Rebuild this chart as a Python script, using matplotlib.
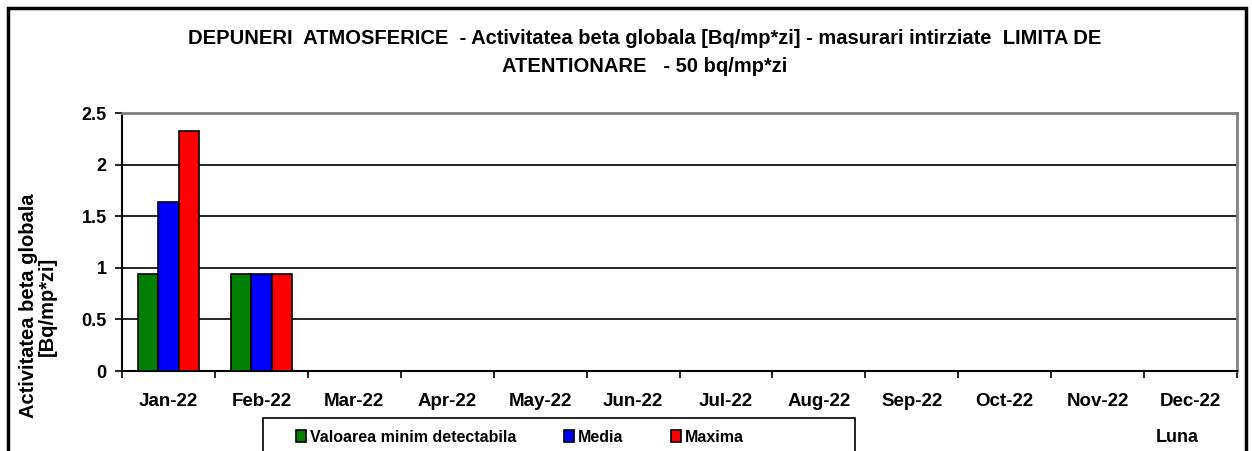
import numpy as np
import matplotlib.pyplot as plt
from matplotlib.patches import Rectangle

plt.rcParams['font.family'] = ['Liberation Sans', 'DejaVu Sans']
plt.rcParams['font.weight'] = 'bold'

# Date
luni = ['Jan-22', 'Feb-22', 'Mar-22', 'Apr-22', 'May-22', 'Jun-22',
        'Jul-22', 'Aug-22', 'Sep-22', 'Oct-22', 'Nov-22', 'Dec-22']
minim_detectabil = [0.94, 0.94]
media = [1.64, 0.94]
maxima = [2.33, 0.94]
serii = ['Valoarea minim detectabila', 'Media', 'Maxima']
culori = ['#008000', '#0000ff', '#ff0000']

fig = plt.figure(figsize=(12.52, 4.51), dpi=100)
ax = fig.add_axes([122 / 1252, 1 - 371 / 451, (1237 - 122) / 1252, (371 - 113) / 451])

x = np.arange(len(luni))
w = 0.22
for i, (vals, nume, c) in enumerate(zip([minim_detectabil, media, maxima], serii, culori)):
    xs = x[:len(vals)] + (i - 1) * w
    ax.bar(xs, vals, width=w, color=c, edgecolor='black', linewidth=1.2, label=nume, zorder=3)

ax.set_xlim(-0.5, len(luni) - 0.5)
ax.set_ylim(0, 2.5)
ax.set_yticks([0, 0.5, 1, 1.5, 2, 2.5])
ax.set_yticklabels(['0', '0.5', '1', '1.5', '2', '2.5'], fontsize=13, fontweight='bold')
ax.set_xticks(x)
ax.set_xticklabels(luni, fontsize=13.5, fontweight='bold')
ax.set_xticks(np.arange(-0.5, len(luni)), minor=True)
ax.tick_params(axis='x', which='major', length=0, pad=16)
ax.tick_params(axis='x', which='minor', length=5, width=1.2, direction='out')
ax.tick_params(axis='y', length=5, width=1.2, direction='out', pad=6)

for yv in [0.5, 1, 1.5, 2]:
    ax.axhline(yv, color='black', linewidth=1.2, zorder=1)

ax.spines['left'].set_linewidth(1.5)
ax.spines['bottom'].set_linewidth(1.5)
ax.spines['top'].set_color('#808080')
ax.spines['right'].set_color('#808080')
ax.spines['top'].set_linewidth(2)
ax.spines['right'].set_linewidth(2)

fig.text(645 / 1252, 1 - 52 / 451,
         'DEPUNERI  ATMOSFERICE  - Activitatea beta globala [Bq/mp*zi] - masurari intirziate  LIMITA DE\n'
         'ATENTIONARE   - 50 bq/mp*zi',
         ha='center', va='center', fontsize=14.5, fontweight='bold', linespacing=1.6)

fig.text(38 / 1252, 1 - 306 / 451, 'Activitatea beta globala\n[Bq/mp*zi]',
         rotation=90, ha='center', va='center', fontsize=14.5, fontweight='bold',
         multialignment='center', linespacing=1.05)

fig.text(1177 / 1252, 1 - 438 / 451, 'Luna', ha='center', va='center',
         fontsize=13, fontweight='bold')

# chenarul legendei
fig.patches.append(Rectangle((263 / 1252, -0.1), (855 - 263) / 1252, 0.1 + 1 - 418 / 451,
                             transform=fig.transFigure, fill=False,
                             edgecolor='black', linewidth=1.2, clip_on=False))
leg = fig.legend(loc='center', bbox_to_anchor=(520 / 1252, 1 - 437 / 451), ncol=3,
                 fontsize=11.5, frameon=False, handlelength=0.6,
                 handleheight=0.8, handletextpad=0.25, columnspacing=3.0)
for t in leg.get_texts():
    t.set_fontweight('bold')

fig.patches.append(Rectangle((8 / 1252, -0.1), (1246 - 8) / 1252, 1.1 - 8 / 451,
                             transform=fig.transFigure, fill=False,
                             edgecolor='black', linewidth=2.5, clip_on=False))

fig.savefig('out.png', dpi=100)
